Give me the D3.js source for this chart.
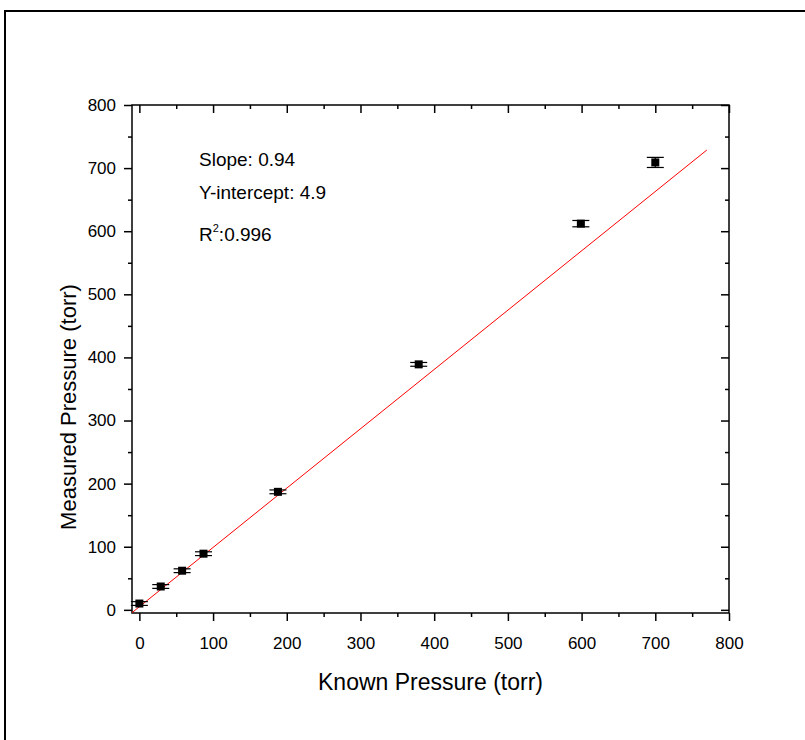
<!DOCTYPE html>
<html>
<head>
<meta charset="utf-8">
<script src="https://cdn.jsdelivr.net/npm/d3@7"></script>
<style>
  body { margin: 0; background: #fff; }
  svg text { font-family: "Liberation Sans", Arial, sans-serif; fill: #000; }
</style>
</head>
<body>
<div id="chart"></div>
<script>
// data
var knownPressure = [0, 29, 58, 87, 188, 379, 599, 700];
var measuredPressure = [10, 37, 62, 89, 187, 389, 612, 709];
var measuredErr = [3, 3, 3, 3, 3, 3, 5, 8];
var xTicks = [0, 100, 200, 300, 400, 500, 600, 700, 800];
var yTicks = [0, 100, 200, 300, 400, 500, 600, 700, 800];
var fitSlope = 0.94, fitIntercept = 4.9, fitRange = [-10, 770];
var notes = ["Slope: 0.94", "Y-intercept: 4.9"];

var width = 805, height = 740;
var plot = {left: 132, right: 729, top: 105, bottom: 613};

var svg = d3.select("#chart").append("svg")
    .attr("width", width)
    .attr("height", height);

// outer frame (runs off the page right and bottom)
svg.append("rect")
    .attr("x", 5).attr("y", 11)
    .attr("width", 900).attr("height", 900)
    .style("fill", "none")
    .style("stroke", "#000")
    .style("stroke-width", 2);

var xScale = d3.scaleLinear().domain([-10, 800]).range([plot.left, plot.right]);
var yScale = d3.scaleLinear().domain([-5, 800]).range([plot.bottom, plot.top]);

var minorX = d3.range(50, 800, 100);
var minorY = d3.range(50, 800, 100);

function styleAxis(g) {
    g.select(".domain").remove();
    g.selectAll(".tick line").style("stroke", "#000").style("stroke-width", 1.5);
    g.selectAll(".tick text").style("font-size", "17px");
}

// bottom axis
svg.append("g")
    .attr("transform", "translate(0," + plot.bottom + ")")
    .call(d3.axisBottom(xScale).tickValues(xTicks).tickSize(8).tickPadding(16))
    .call(styleAxis);
svg.append("g")
    .attr("transform", "translate(0," + plot.bottom + ")")
    .call(d3.axisBottom(xScale).tickValues(minorX).tickSize(4).tickFormat(""))
    .call(styleAxis);

// top axis, inward ticks
svg.append("g")
    .attr("transform", "translate(0," + plot.top + ")")
    .call(d3.axisTop(xScale).tickValues(xTicks).tickSize(-8).tickFormat(""))
    .call(styleAxis);
svg.append("g")
    .attr("transform", "translate(0," + plot.top + ")")
    .call(d3.axisTop(xScale).tickValues(minorX).tickSize(-4).tickFormat(""))
    .call(styleAxis);

// left axis
svg.append("g")
    .attr("transform", "translate(" + plot.left + ",0)")
    .call(d3.axisLeft(yScale).tickValues(yTicks).tickSize(8).tickPadding(8))
    .call(styleAxis);
svg.append("g")
    .attr("transform", "translate(" + plot.left + ",0)")
    .call(d3.axisLeft(yScale).tickValues(minorY).tickSize(4).tickFormat(""))
    .call(styleAxis);

// right axis, inward ticks
svg.append("g")
    .attr("transform", "translate(" + plot.right + ",0)")
    .call(d3.axisRight(yScale).tickValues(yTicks).tickSize(-8).tickFormat(""))
    .call(styleAxis);
svg.append("g")
    .attr("transform", "translate(" + plot.right + ",0)")
    .call(d3.axisRight(yScale).tickValues(minorY).tickSize(-4).tickFormat(""))
    .call(styleAxis);

// plot box
svg.append("rect")
    .attr("x", plot.left).attr("y", plot.top)
    .attr("width", plot.right - plot.left)
    .attr("height", plot.bottom - plot.top)
    .style("fill", "none")
    .style("stroke", "#000")
    .style("stroke-width", 1.5);

// fit line
svg.append("line")
    .attr("x1", xScale(fitRange[0]))
    .attr("y1", yScale(fitSlope * fitRange[0] + fitIntercept))
    .attr("x2", xScale(fitRange[1]))
    .attr("y2", yScale(fitSlope * fitRange[1] + fitIntercept))
    .style("stroke", "#ff0000")
    .style("stroke-width", 1);

var data = knownPressure.map(function(d, i) {
    return {x: d, y: measuredPressure[i], e: measuredErr[i]};
});

var capW = 8.5;
var pts = svg.append("g").selectAll("g")
    .data(data)
    .enter()
    .append("g");

pts.append("line")
    .attr("x1", function(d) { return xScale(d.x); })
    .attr("x2", function(d) { return xScale(d.x); })
    .attr("y1", function(d) { return yScale(d.y - d.e); })
    .attr("y2", function(d) { return yScale(d.y + d.e); })
    .style("stroke", "#000").style("stroke-width", 1.2);

pts.selectAll(".cap")
    .data(function(d) { return [{x: d.x, y: d.y - d.e}, {x: d.x, y: d.y + d.e}]; })
    .enter()
    .append("line")
    .attr("class", "cap")
    .attr("x1", function(d) { return xScale(d.x) - capW; })
    .attr("x2", function(d) { return xScale(d.x) + capW; })
    .attr("y1", function(d) { return yScale(d.y); })
    .attr("y2", function(d) { return yScale(d.y); })
    .style("stroke", "#000").style("stroke-width", 1.2);

pts.append("rect")
    .attr("x", function(d) { return xScale(d.x) - 4; })
    .attr("y", function(d) { return yScale(d.y) - 4; })
    .attr("width", 8).attr("height", 8)
    .style("fill", "#000");

// annotations
svg.selectAll(".note")
    .data(notes)
    .enter()
    .append("text")
    .attr("class", "note")
    .attr("x", 199)
    .attr("y", function(d, i) { return 166 + i * 33; })
    .style("font-size", "19px")
    .text(function(d) { return d; });

var r2 = svg.append("text")
    .attr("x", 199).attr("y", 241)
    .style("font-size", "19px");
r2.append("tspan").text("R");
r2.append("tspan").attr("dy", -9).style("font-size", "11px").text("2");
r2.append("tspan").attr("dy", 9).text(":0.996");

// axis titles
svg.append("text")
    .attr("x", (plot.left + plot.right) / 2)
    .attr("y", 690)
    .attr("text-anchor", "middle")
    .style("font-size", "23px")
    .text("Known Pressure (torr)");

svg.append("text")
    .attr("transform", "translate(76,407) rotate(-90)")
    .attr("text-anchor", "middle")
    .style("font-size", "22px")
    .text("Measured Pressure (torr)");
</script>
</body>
</html>
